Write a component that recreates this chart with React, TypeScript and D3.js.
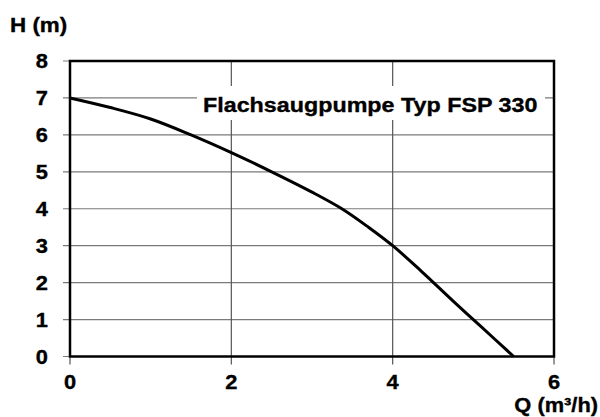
import React from "react";
import * as d3 from "d3";

const qValues = [0, 0.5, 1, 1.5, 2, 2.5, 3, 3.37, 3.7, 4, 4.36, 4.75, 5.1, 5.5];
const hValues = [7, 6.74, 6.43, 6.0, 5.52, 5.0, 4.45, 4.0, 3.5, 3.0, 2.3, 1.5, 0.8, 0];
const xTicks = [0, 2, 4, 6];
const yTicks = [0, 1, 2, 3, 4, 5, 6, 7, 8];
const title = "Flachsaugpumpe Typ FSP 330";
const yLabel = "H (m)";
const xLabel = "Q (m³/h)";

const W = 600;
const H = 417;
const left = 70;
const right = 554;
const top = 61;
const bottom = 356.5;
const SX = 1.12;
const FONT = "Liberation Sans, Arial, sans-serif";

function T({ x, y, size, anchor, children }: any) {
  return (
    <g transform={`translate(${x},${y}) scale(${SX},1)`}>
      <text
        fontFamily={FONT}
        fontWeight="bold"
        fontSize={size}
        textAnchor={anchor}
        fill="#000"
        stroke="#000"
        strokeWidth={0.35}
      >
        {children}
      </text>
    </g>
  );
}

export default function App() {
  const x = d3.scaleLinear().domain([0, 6]).range([left, right]);
  const y = d3.scaleLinear().domain([0, 8]).range([bottom, top]);
  const pts: [number, number][] = qValues.map((q, i) => [q, hValues[i]]);
  const line = d3
    .line<[number, number]>()
    .x((d) => x(d[0]))
    .y((d) => y(d[1]))
    .curve(d3.curveCatmullRom.alpha(0.5));

  return (
    <svg
      width={W}
      height={H}
      style={{ position: "absolute", left: 0, top: 0, background: "#fff" }}
    >
      <rect x={0} y={0} width={W} height={H} fill="#fff" />
      {yTicks.map((t) => (
        <line
          key={"h" + t}
          x1={left - 7}
          x2={right}
          y1={y(t)}
          y2={y(t)}
          stroke="#7a7a7a"
          strokeWidth={1.2}
        />
      ))}
      {xTicks.map((t) => (
        <line
          key={"v" + t}
          x1={x(t)}
          x2={x(t)}
          y1={top}
          y2={bottom + 8}
          stroke="#555"
          strokeWidth={1.2}
        />
      ))}
      <rect x={197} y={86} width={348} height={34} fill="#fff" />
      <T x={203} y={112} size={20.8} anchor="start">
        {title}
      </T>
      <rect
        x={left}
        y={top}
        width={right - left}
        height={bottom - top}
        fill="none"
        stroke="#000"
        strokeWidth={2.5}
      />
      <path d={line(pts) || ""} fill="none" stroke="#000" strokeWidth={3} strokeLinejoin="round" />
      {yTicks.map((t) => (
        <T key={"yl" + t} x={48} y={y(t) + 7} size={19.5} anchor="end">
          {t}
        </T>
      ))}
      {xTicks.map((t) => (
        <T key={"xl" + t} x={x(t)} y={389} size={19.5} anchor="middle">
          {t}
        </T>
      ))}
      <T x={10} y={32} size={20} anchor="start">
        {yLabel}
      </T>
      <T x={598} y={412} size={19.5} anchor="end">
        {xLabel}
      </T>
    </svg>
  );
}
